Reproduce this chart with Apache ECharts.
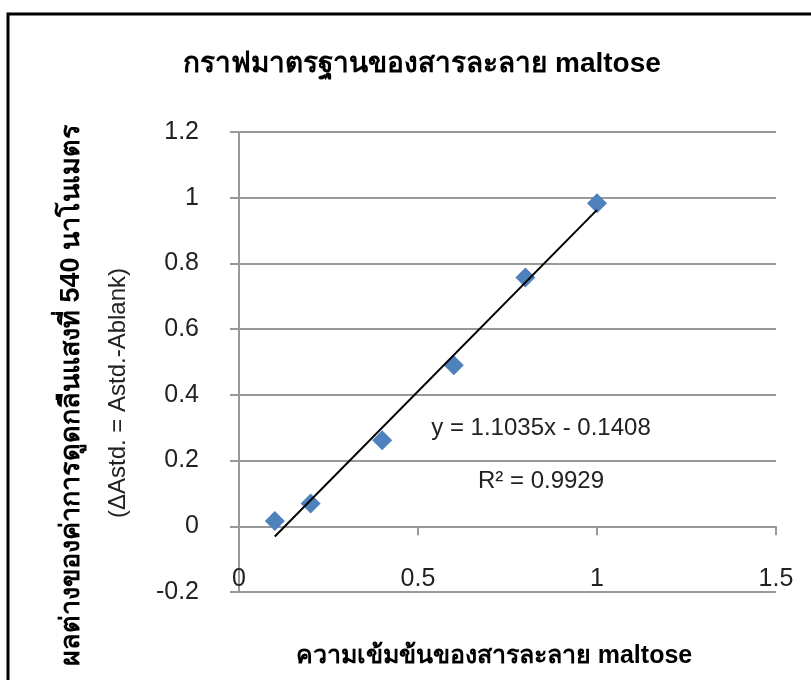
<!DOCTYPE html>
<html>
<head>
<meta charset="utf-8">
<script src="https://cdn.jsdelivr.net/npm/echarts@6/dist/echarts.min.js"></script>
<style>
html, body { margin: 0; padding: 0; background: #fff; }
#main { width: 811px; height: 680px; }
</style>
</head>
<body>
<div id="main"></div>
<script>
// ความเข้มข้นของ maltose กับค่าการดูดกลืนแสง
var concX = [0.1, 0.2, 0.4, 0.6, 0.8, 1.0];
var deltaA = [0.016, 0.069, 0.262, 0.49, 0.757, 0.983];
// เส้นแนวโน้ม y = 1.1035x - 0.1408
var trendX = [0.1, 1.0];
var trendY = [-0.031, 0.963];
var xTicks = [0, 0.5, 1, 1.5];
var yTicks = [-0.2, 0, 0.2, 0.4, 0.6, 0.8, 1, 1.2];

var titleText = 'กราฟมาตรฐานของสารละลาย maltose';
var xName = 'ความเข้มข้นของสารละลาย maltose';
var yName1 = 'ผลต่างของค่าการดูดกลืนแสงที่ 540 นาโนเมตร';
var yName2 = '(ΔAstd. = Astd.-Ablank)';
var eqText = 'y = 1.1035x - 0.1408';
var r2Text = 'R² = 0.9929';

var font = '"Liberation Sans", Arial, sans-serif';
var gray = '#999999';

var myChart = echarts.init(document.getElementById('main'));
var option = {
    backgroundColor: '#fff',
    animation: false,
    title: {
        text: titleText,
        left: 417,
        top: 45,
        textAlign: 'center',
        textStyle: { fontFamily: font, fontSize: 28, fontWeight: 'bold', color: '#000' }
    },
    grid: { left: 239, right: 35, top: 132, bottom: 88 },
    xAxis: [
        {
            type: 'value',
            min: xTicks[0],
            max: xTicks[xTicks.length - 1],
            interval: 0.5,
            axisLine: { onZero: true, lineStyle: { color: gray, width: 2 } },
            axisTick: { show: true, length: 9, lineStyle: { color: gray, width: 2 } },
            axisLabel: { show: false },
            splitLine: { show: false }
        },
        {
            type: 'value',
            position: 'bottom',
            min: xTicks[0],
            max: xTicks[xTicks.length - 1],
            interval: 0.5,
            axisLine: { show: false },
            axisTick: { show: false },
            splitLine: { show: false },
            axisLabel: {
                inside: true,
                margin: 0,
                fontFamily: font,
                fontSize: 25,
                color: '#222'
            }
        }
    ],
    yAxis: {
        type: 'value',
        min: yTicks[0],
        max: yTicks[yTicks.length - 1],
        interval: 0.2,
        axisLine: { show: true, onZero: false, lineStyle: { color: gray, width: 2 } },
        axisTick: { show: true, length: 9, lineStyle: { color: gray, width: 2 } },
        axisLabel: {
            margin: 40,
            fontFamily: font,
            fontSize: 25,
            color: '#222',
            formatter: function (v) { return String(Math.round(v * 10) / 10); }
        },
        splitLine: { show: true, lineStyle: { color: gray, width: 2 } }
    },
    series: [
        {
            type: 'line',
            data: trendX.map(function (x, i) { return [x, trendY[i]]; }),
            showSymbol: false,
            symbol: 'none',
            lineStyle: { color: '#000', width: 2 },
            z: 3
        },
        {
            type: 'scatter',
            data: concX.map(function (x, i) { return [x, deltaA[i]]; }),
            symbol: 'diamond',
            symbolSize: 20,
            itemStyle: { color: '#4F81BD', opacity: 1 },
            z: 2
        }
    ],
    graphic: [
        {
            type: 'rect',
            shape: { x: 8, y: 14, width: 830, height: 700 },
            style: { fill: 'none', stroke: '#000', lineWidth: 3 },
            silent: true
        },
        {
            type: 'text',
            x: 541, y: 428,
            style: { text: eqText, font: '24px ' + font, fill: '#222', align: 'center', verticalAlign: 'middle' }
        },
        {
            type: 'text',
            x: 541, y: 481,
            style: { text: r2Text, font: '24px ' + font, fill: '#222', align: 'center', verticalAlign: 'middle' }
        },
        {
            type: 'text',
            x: 494, y: 656,
            style: { text: xName, font: 'bold 25px ' + font, fill: '#000', align: 'center', verticalAlign: 'middle' }
        },
        {
            type: 'text',
            x: 72, y: 395,
            rotation: Math.PI / 2,
            style: { text: yName1, font: 'bold 27px ' + font, fill: '#000', align: 'center', verticalAlign: 'middle' }
        },
        {
            type: 'text',
            x: 118, y: 393,
            rotation: Math.PI / 2,
            style: { text: yName2, font: '24px ' + font, fill: '#222', align: 'center', verticalAlign: 'middle' }
        }
    ]
};
myChart.setOption(option);
</script>
</body>
</html>
